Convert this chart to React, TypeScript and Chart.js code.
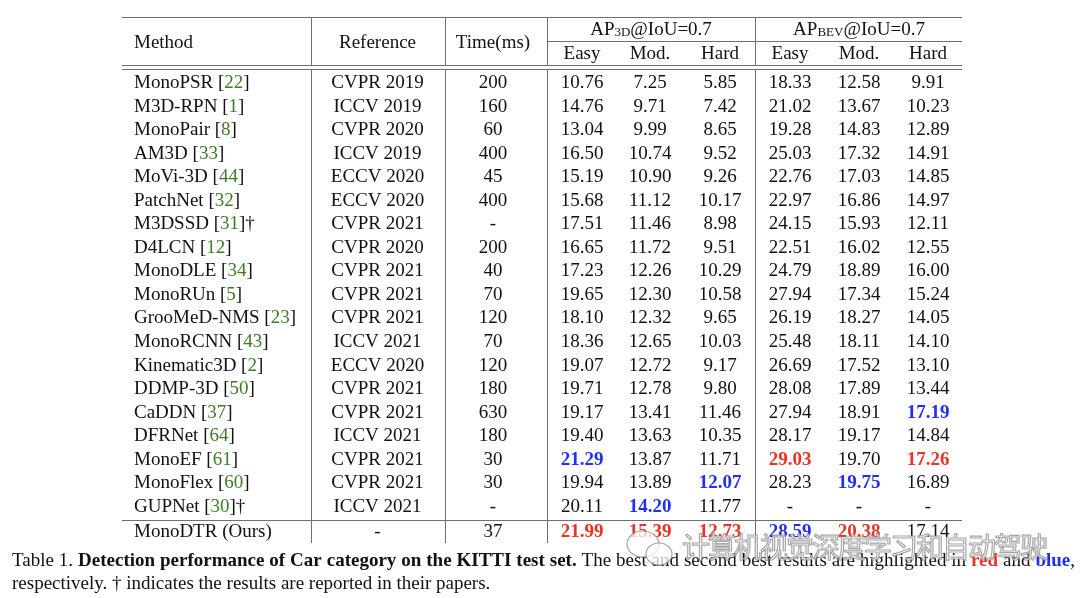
import React, { useEffect, useRef } from "react";
import { Chart, registerables } from "chart.js";

Chart.register(...registerables);

// ---------------- data ----------------
const METHODS = [
  "MonoPSR", "M3D-RPN", "MonoPair", "AM3D", "MoVi-3D", "PatchNet", "M3DSSD", "D4LCN",
  "MonoDLE", "MonoRUn", "GrooMeD-NMS", "MonoRCNN", "Kinematic3D", "DDMP-3D", "CaDDN",
  "DFRNet", "MonoEF", "MonoFlex", "GUPNet", "MonoDTR (Ours)",
];
const CITATIONS = [
  "22", "1", "8", "33", "44", "32", "31", "12", "34", "5", "23", "43", "2", "50", "37",
  "64", "61", "60", "30", "",
];
const DAGGER = [
  false, false, false, false, false, false, true, false, false, false, false, false,
  false, false, false, false, false, false, true, false,
];
const REFERENCES = [
  "CVPR 2019", "ICCV 2019", "CVPR 2020", "ICCV 2019", "ECCV 2020", "ECCV 2020", "CVPR 2021",
  "CVPR 2020", "CVPR 2021", "CVPR 2021", "CVPR 2021", "ICCV 2021", "ECCV 2020", "CVPR 2021",
  "CVPR 2021", "ICCV 2021", "CVPR 2021", "CVPR 2021", "ICCV 2021", "-",
];
const TIMES = [
  "200", "160", "60", "400", "45", "400", "-", "200", "40", "70", "120", "70", "120", "180",
  "630", "180", "30", "30", "-", "37",
];
const AP3D_EASY = [10.76, 14.76, 13.04, 16.5, 15.19, 15.68, 17.51, 16.65, 17.23, 19.65, 18.1, 18.36, 19.07, 19.71, 19.17, 19.4, 21.29, 19.94, 20.11, 21.99];
const AP3D_MOD = [7.25, 9.71, 9.99, 10.74, 10.9, 11.12, 11.46, 11.72, 12.26, 12.3, 12.32, 12.65, 12.72, 12.78, 13.41, 13.63, 13.87, 13.89, 14.2, 15.39];
const AP3D_HARD = [5.85, 7.42, 8.65, 9.52, 9.26, 10.17, 8.98, 9.51, 10.29, 10.58, 9.65, 10.03, 9.17, 9.8, 11.46, 10.35, 11.71, 12.07, 11.77, 12.73];
const APBEV_EASY = [18.33, 21.02, 19.28, 25.03, 22.76, 22.97, 24.15, 22.51, 24.79, 27.94, 26.19, 25.48, 26.69, 28.08, 27.94, 28.17, 29.03, 28.23, null, 28.59];
const APBEV_MOD = [12.58, 13.67, 14.83, 17.32, 17.03, 16.86, 15.93, 16.02, 18.89, 17.34, 18.27, 18.11, 17.52, 17.89, 18.91, 19.17, 19.7, 19.75, null, 20.38];
const APBEV_HARD = [9.91, 10.23, 12.89, 14.91, 14.85, 14.97, 12.11, 12.55, 16.0, 15.24, 14.05, 14.1, 13.1, 13.44, 17.19, 14.84, 17.26, 16.89, null, 17.14];

// best (red) and second best (blue): [row, metric column 0..5]
const BEST_CELLS: [number, number][] = [[19, 0], [19, 1], [19, 2], [16, 3], [19, 4], [16, 5]];
const SECOND_CELLS: [number, number][] = [[16, 0], [18, 1], [17, 2], [19, 3], [17, 4], [14, 5]];

const SUB_HEADERS = ["Easy", "Mod.", "Hard", "Easy", "Mod.", "Hard"];

// ---------------- layout (table units) ----------------
const COL_X = [12, 255.5, 371, 460, 528, 598, 668, 737, 806]; // text anchors
const V_LINES = [189, 323, 425, 633];
const TABLE_W = 840;
const Y_MIN = -2.7176;
const Y_MAX = 19.618;
const rowY = (i: number) => (i < 19 ? i : 19.05);

const FONT = '"Liberation Serif", "Times New Roman", serif';
const FS = 19;
const TEXT_DY = 2;
const GREEN = "#3a7d22";
const RED = "#ea3323";
const BLUE = "#1f2ff5";
const LINE = "#707070";

type Run = { text: string; font: string; color: string; dy?: number };

function drawRuns(ctx: CanvasRenderingContext2D, runs: Run[], x: number, y: number, align: string) {
  let total = 0;
  const widths = runs.map((r) => {
    ctx.font = r.font;
    const w = ctx.measureText(r.text).width;
    total += w;
    return w;
  });
  let cx = align === "center" ? x - total / 2 : align === "right" ? x - total : x;
  ctx.textAlign = "left";
  ctx.textBaseline = "middle";
  runs.forEach((r, i) => {
    ctx.font = r.font;
    ctx.fillStyle = r.color;
    ctx.fillText(r.text, cx, y + (r.dy || 0));
    cx += widths[i];
  });
}

function drawJustified(ctx: CanvasRenderingContext2D, runs: Run[], x0: number, x1: number, y: number) {
  const tokens: { text: string; font: string; color: string; space: boolean }[] = [];
  runs.forEach((r) => {
    r.text.split(/( )/).forEach((t) => {
      if (t === "") return;
      tokens.push({ text: t, font: r.font, color: r.color, space: t === " " });
    });
  });
  let total = 0;
  let gaps = 0;
  const widths = tokens.map((t) => {
    ctx.font = t.font;
    const w = ctx.measureText(t.text).width;
    total += w;
    if (t.space) gaps++;
    return w;
  });
  const extra = gaps > 0 ? (x1 - x0 - total) / gaps : 0;
  let cx = x0;
  ctx.textAlign = "left";
  ctx.textBaseline = "middle";
  tokens.forEach((t, i) => {
    ctx.font = t.font;
    ctx.fillStyle = t.color;
    if (!t.space) ctx.fillText(t.text, cx, y);
    cx += widths[i] + (t.space ? extra : 0);
  });
}

const METRICS = [AP3D_EASY, AP3D_MOD, AP3D_HARD, APBEV_EASY, APBEV_MOD, APBEV_HARD];

function cellRuns(row: number, col: number): Run[] {
  const n = `${FS}px ${FONT}`;
  if (col === 0) {
    const runs: Run[] = [{ text: METHODS[row], font: n, color: "#111" }];
    if (CITATIONS[row]) {
      runs.push({ text: " [", font: n, color: "#111" });
      runs.push({ text: CITATIONS[row], font: n, color: GREEN });
      runs.push({ text: "]", font: n, color: "#111" });
    }
    if (DAGGER[row]) runs.push({ text: "†", font: n, color: "#111" });
    return runs;
  }
  if (col === 1) return [{ text: REFERENCES[row], font: n, color: "#111" }];
  if (col === 2) return [{ text: TIMES[row], font: n, color: "#111" }];
  const m = col - 3;
  const v = METRICS[m][row];
  const text = v === null || v === undefined ? "-" : v.toFixed(2);
  const best = BEST_CELLS.some(([r, c]) => r === row && c === m);
  const second = SECOND_CELLS.some(([r, c]) => r === row && c === m);
  if (best) return [{ text, font: `bold ${FS}px ${FONT}`, color: RED }];
  if (second) return [{ text, font: `bold ${FS}px ${FONT}`, color: BLUE }];
  return [{ text, font: n, color: "#111" }];
}

const tablePlugin = {
  id: "tableText",
  afterDatasetsDraw(chart: any) {
    const ctx: CanvasRenderingContext2D = chart.ctx;
    const xs = chart.scales.x;
    const ys = chart.scales.y;
    const X = (v: number) => xs.getPixelForValue(v);
    const Y = (v: number) => ys.getPixelForValue(v);
    ctx.save();

    // rules
    ctx.strokeStyle = LINE;
    ctx.lineWidth = 1;
    const hline = (v: number, a: number, b: number) => {
      const y = Math.round(Y(v)) + 0.5;
      ctx.beginPath();
      ctx.moveTo(X(a), y);
      ctx.lineTo(X(b), y);
      ctx.stroke();
    };
    const vline = (u: number, a: number, b: number) => {
      const x = Math.round(X(u)) + 0.5;
      ctx.beginPath();
      ctx.moveTo(x, Y(a));
      ctx.lineTo(x, Y(b));
      ctx.stroke();
    };
    hline(Y_MIN, 0, TABLE_W);
    hline(-1.68, V_LINES[2], TABLE_W);
    hline(-0.68, 0, TABLE_W);
    hline(-0.5, 0, TABLE_W);
    hline(18.64, 0, TABLE_W);
    V_LINES.forEach((u) => {
      vline(u, Y_MIN, -0.68);
      vline(u, -0.5, Y_MAX);
    });

    // header
    const n = `${FS}px ${FONT}`;
    const sub = `${Math.round(FS * 0.7)}px ${FONT}`;
    const hy = Y(-1.7) + TEXT_DY;
    drawRuns(ctx, [{ text: "Method", font: n, color: "#111" }], X(COL_X[0]), hy, "left");
    drawRuns(ctx, [{ text: "Reference", font: n, color: "#111" }], X(COL_X[1]), hy, "center");
    drawRuns(ctx, [{ text: "Time(ms)", font: n, color: "#111" }], X(COL_X[2]), hy, "center");
    const gy = Y(-2.25) + TEXT_DY;
    drawRuns(
      ctx,
      [
        { text: "AP", font: n, color: "#111" },
        { text: "3D", font: sub, color: "#111", dy: 3 },
        { text: "@IoU=0.7", font: n, color: "#111" },
      ],
      X(COL_X[4]) + 1,
      gy,
      "center"
    );
    drawRuns(
      ctx,
      [
        { text: "AP", font: n, color: "#111" },
        { text: "BEV", font: sub, color: "#111", dy: 3 },
        { text: "@IoU=0.7", font: n, color: "#111" },
      ],
      X(COL_X[7]),
      gy,
      "center"
    );
    const sy = Y(-1.23) + TEXT_DY;
    SUB_HEADERS.forEach((h, i) => {
      drawRuns(ctx, [{ text: h, font: n, color: "#111" }], X(COL_X[i + 3]), sy, "center");
    });

    // cells from dataset elements
    chart.data.datasets.forEach((ds: any, col: number) => {
      const meta = chart.getDatasetMeta(col);
      meta.data.forEach((el: any, row: number) => {
        drawRuns(ctx, cellRuns(row, col), el.x, el.y + TEXT_DY, col === 0 ? "left" : "center");
      });
    });

    // caption
    const cs = 19;
    const cn = `${cs}px ${FONT}`;
    const cb = `bold ${cs}px ${FONT}`;
    drawJustified(
      ctx,
      [
        { text: "Table 1. ", font: cn, color: "#111" },
        { text: "Detection performance of Car category on the KITTI test set.", font: cb, color: "#111" },
        { text: " The best and second best results are highlighted in ", font: cn, color: "#111" },
        { text: "red", font: cb, color: RED },
        { text: " and ", font: cn, color: "#111" },
        { text: "blue", font: cb, color: BLUE },
        { text: ",", font: cn, color: "#111" },
      ],
      12,
      1075,
      561
    );
    drawRuns(
      ctx,
      [{ text: "respectively. † indicates the results are reported in their papers.", font: cn, color: "#111" }],
      12,
      584,
      "left"
    );

    // watermark
    ctx.lineWidth = 1.2;
    ctx.strokeStyle = "rgba(150,150,150,0.85)";
    ctx.fillStyle = "rgba(255,255,255,0.75)";
    ctx.beginPath();
    ctx.ellipse(643, 544, 16, 13, 0, 0, Math.PI * 2);
    ctx.fill();
    ctx.stroke();
    ctx.beginPath();
    ctx.ellipse(659, 554, 13, 11, 0, 0, Math.PI * 2);
    ctx.fill();
    ctx.stroke();
    const wm = "计算机视觉深度学习和自动驾驶";
    ctx.font = `28px "Noto Sans CJK SC"`;
    ctx.textAlign = "left";
    ctx.textBaseline = "middle";
    Array.from(wm).forEach((ch, i) => {
      const x = 682 + i * 26;
      ctx.fillStyle = "rgba(255,255,255,0.75)";
      ctx.fillText(ch, x, 547);
      ctx.strokeText(ch, x, 547);
    });
    ctx.restore();
  },
};

export default function App() {
  const ref = useRef<HTMLCanvasElement | null>(null);
  useEffect(() => {
    document.body.style.margin = "0";
    document.body.style.background = "#fff";
    if (!ref.current) return;
    const datasets = COL_X.map((cx, col) => ({
      label: `col${col}`,
      data: METHODS.map((_, i) => ({ x: cx, y: rowY(i) })),
      pointRadius: 0,
      pointHoverRadius: 0,
    }));
    const chart = new Chart(ref.current, {
      type: "scatter",
      data: { datasets },
      options: {
        animation: false,
        responsive: false,
        events: [],
        layout: { padding: { left: 122, right: 118, top: 17, bottom: 55 } },
        plugins: { legend: { display: false }, tooltip: { enabled: false }, title: { display: false } },
        scales: {
          x: { type: "linear", min: 0, max: TABLE_W, display: false },
          y: { type: "linear", min: Y_MIN, max: Y_MAX, reverse: true, display: false },
        },
      },
      plugins: [tablePlugin],
    });
    return () => chart.destroy();
  }, []);
  return <canvas ref={ref} width={1080} height={598} style={{ display: "block", width: 1080, height: 598 }} />;
}
